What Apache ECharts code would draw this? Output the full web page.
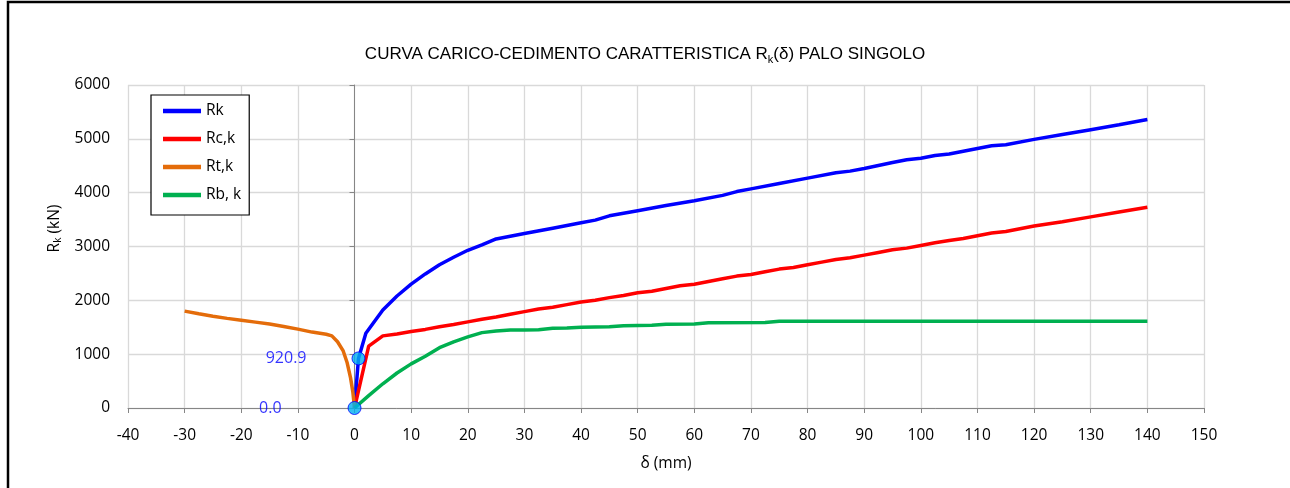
<!DOCTYPE html>
<html>
<head>
<meta charset="utf-8">
<script src="https://cdn.jsdelivr.net/npm/echarts@6/dist/echarts.min.js"></script>
<style>html,body{margin:0;padding:0;background:#fff;}#c{width:1290px;height:488px;}</style>
</head>
<body>
<div id="c"></div>
<script>
// δ (mm) values and resistances (kN)
const rtX = [-30, -27.5, -25, -22.5, -20, -17.5, -15, -12.5, -10, -7.5, -5, -4, -3, -2, -1.3, -0.7, -0.3, 0];
const rtY = [1800, 1750, 1705, 1665, 1630, 1595, 1560, 1515, 1465, 1410, 1370, 1340, 1230, 1060, 840, 560, 300, 0];

const rkX = [0, 0.7, 2, 5, 7.5, 10, 12.5, 15, 17.5, 20, 22.5, 25, 30, 35, 40, 42.5, 45, 50, 55, 60, 65, 67.5, 70, 75, 80, 85, 87.5, 90, 95, 97.5, 100, 102.5, 105, 110, 112.5, 115, 120, 125, 130, 135, 140];
const rkY = [0, 920.9, 1390, 1820, 2080, 2300, 2490, 2660, 2800, 2930, 3030, 3140, 3240, 3340, 3440, 3490, 3570, 3665, 3760, 3850, 3950, 4020, 4070, 4170, 4270, 4370, 4400, 4450, 4560, 4610, 4640, 4690, 4720, 4820, 4870, 4890, 4990, 5080, 5170, 5260, 5360];

const rcX = [0, 2.5, 5, 7.5, 10, 12.5, 15, 17.5, 20, 22.5, 25, 27.5, 30, 32.5, 35, 37.5, 40, 42.5, 45, 47.5, 50, 52.5, 55, 57.5, 60, 62.5, 65, 67.5, 70, 72.5, 75, 77.5, 80, 82.5, 85, 87.5, 90, 92.5, 95, 97.5, 100, 102.5, 105, 107.5, 110, 112.5, 115, 117.5, 120, 125, 130, 135, 140];
const rcY = [0, 1150, 1340, 1375, 1420, 1460, 1510, 1550, 1600, 1650, 1690, 1740, 1790, 1840, 1870, 1920, 1970, 2000, 2050, 2090, 2140, 2170, 2220, 2270, 2300, 2350, 2400, 2450, 2480, 2530, 2580, 2610, 2660, 2710, 2760, 2790, 2840, 2890, 2940, 2970, 3020, 3070, 3110, 3150, 3200, 3250, 3280, 3330, 3380, 3460, 3550, 3640, 3730];

const rbX = [0, 2.5, 5, 7.5, 10, 12.5, 15, 17.5, 20, 22.5, 25, 27.5, 30, 32.5, 35, 37.5, 40, 45, 47.5, 52.5, 55, 60, 62.5, 72.5, 75, 140];
const rbY = [0, 230, 450, 650, 820, 960, 1120, 1230, 1320, 1400, 1430, 1450, 1450, 1455, 1480, 1485, 1500, 1510, 1530, 1535, 1555, 1560, 1585, 1590, 1610, 1610];

const ptX = [0, 0.7];
const ptY = [0, 920.9];

const seriesNames = ['Rk', 'Rc,k', 'Rt,k', 'Rb, k'];
const xTicks = {min: -40, max: 150, interval: 10};
const yTicks = {min: 0, max: 6000, interval: 1000};

function zip(xs, ys) { return xs.map((x, i) => [x, ys[i]]); }

const chart = echarts.init(document.getElementById('c'));
const FONT = 'Open Sans';
const TFONT = 'Liberation Sans';
const lineSeries = (name, xs, ys, color) => ({
  name: name, type: 'line', data: zip(xs, ys), symbol: 'none', showSymbol: false,
  lineStyle: {color: color, width: 3.5}, itemStyle: {color: color}, z: 3, animation: false
});

chart.setOption({
  backgroundColor: '#fff',
  animation: false,
  textStyle: {fontFamily: FONT},
  title: {
    text: '{a|CURVA CARICO-CEDIMENTO CARATTERISTICA R}{s|k}{a|(δ) PALO SINGOLO}',
    left: 'center', top: 38,
    textStyle: {
      fontWeight: 'normal', color: '#000',
      rich: {
        a: {fontSize: 17, fontFamily: TFONT, color: '#000', lineHeight: 22},
        s: {fontSize: 11, fontFamily: TFONT, color: '#000', lineHeight: 10, verticalAlign: 'bottom'}
      }
    }
  },
  grid: {left: 128, right: 86, top: 85, bottom: 80, containLabel: false},
  legend: {
    orient: 'vertical', left: 151, top: 95,
    data: seriesNames,
    icon: 'rect', itemWidth: 38, itemHeight: 4.5, itemGap: 12,
    padding: [8, 8, 12, 12],
    backgroundColor: '#fff', borderColor: '#000', borderWidth: 1.2,
    textStyle: {fontSize: 15.5, color: '#000', fontFamily: FONT, lineHeight: 16}
  },
  xAxis: {
    type: 'value', min: xTicks.min, max: xTicks.max, interval: xTicks.interval,
    name: 'δ (mm)', nameLocation: 'middle', nameGap: 48,
    nameTextStyle: {fontSize: 15.5, color: '#000', fontFamily: FONT},
    axisLine: {show: true, onZero: false, lineStyle: {color: '#868686', width: 1}},
    axisTick: {show: true, length: 5, lineStyle: {color: '#868686'}},
    axisLabel: {fontSize: 15.5, color: '#000', margin: 20, fontFamily: FONT, formatter: v => String(v)},
    splitLine: {show: true, lineStyle: {color: '#D9D9D9', width: 1.3}}
  },
  yAxis: [{
    type: 'value', min: yTicks.min, max: yTicks.max, interval: yTicks.interval,
    name: '{a|R}{s|k}{a| (kN)}', nameLocation: 'middle', nameGap: 60,
    nameTextStyle: {
      color: '#000', padding: [0, 0, 0, 36],
      rich: {
        a: {fontSize: 15.5, fontFamily: FONT, color: '#000', lineHeight: 18},
        s: {fontSize: 10, fontFamily: FONT, color: '#000', lineHeight: 8, verticalAlign: 'bottom'}
      }
    },
    axisLine: {show: false, onZero: false},
    axisTick: {show: false},
    axisLabel: {fontSize: 15.5, color: '#000', margin: 18, fontFamily: FONT, formatter: v => String(v)},
    splitLine: {show: true, lineStyle: {color: '#D9D9D9', width: 1.3}}
  }, {
    type: 'value', min: yTicks.min, max: yTicks.max, interval: yTicks.interval,
    position: 'left',
    axisLine: {show: true, onZero: true, onZeroAxisIndex: 0, lineStyle: {color: '#868686', width: 1}},
    axisTick: {show: true, length: 5, lineStyle: {color: '#868686'}},
    axisLabel: {show: false},
    splitLine: {show: false}
  }],
  series: [
    lineSeries(seriesNames[0], rkX, rkY, '#0000FF'),
    lineSeries(seriesNames[1], rcX, rcY, '#FF0000'),
    lineSeries(seriesNames[2], rtX, rtY, '#E46C0A'),
    lineSeries(seriesNames[3], rbX, rbY, '#00B050'),
    {
      name: 'punti', type: 'scatter', z: 5,
      data: [
        {value: [ptX[0], ptY[0]], label: {distance: 66}},
        {value: [ptX[1], ptY[1]], label: {distance: 45}}
      ],
      symbol: 'circle', symbolSize: 13,
      itemStyle: {color: '#00B0F0', borderColor: '#0000FF', borderWidth: 1},
      label: {
        show: true, position: 'left', fontSize: 16, color: '#0000FF', fontFamily: FONT,
        formatter: p => p.value[1].toFixed(1)
      }
    }
  ],
  graphic: [{
    type: 'rect', silent: true, z: 100,
    shape: {x: 8, y: 2, width: 1400, height: 600},
    style: {fill: 'none', stroke: '#000', lineWidth: 2.5}
  }]
});
</script>
</body>
</html>
